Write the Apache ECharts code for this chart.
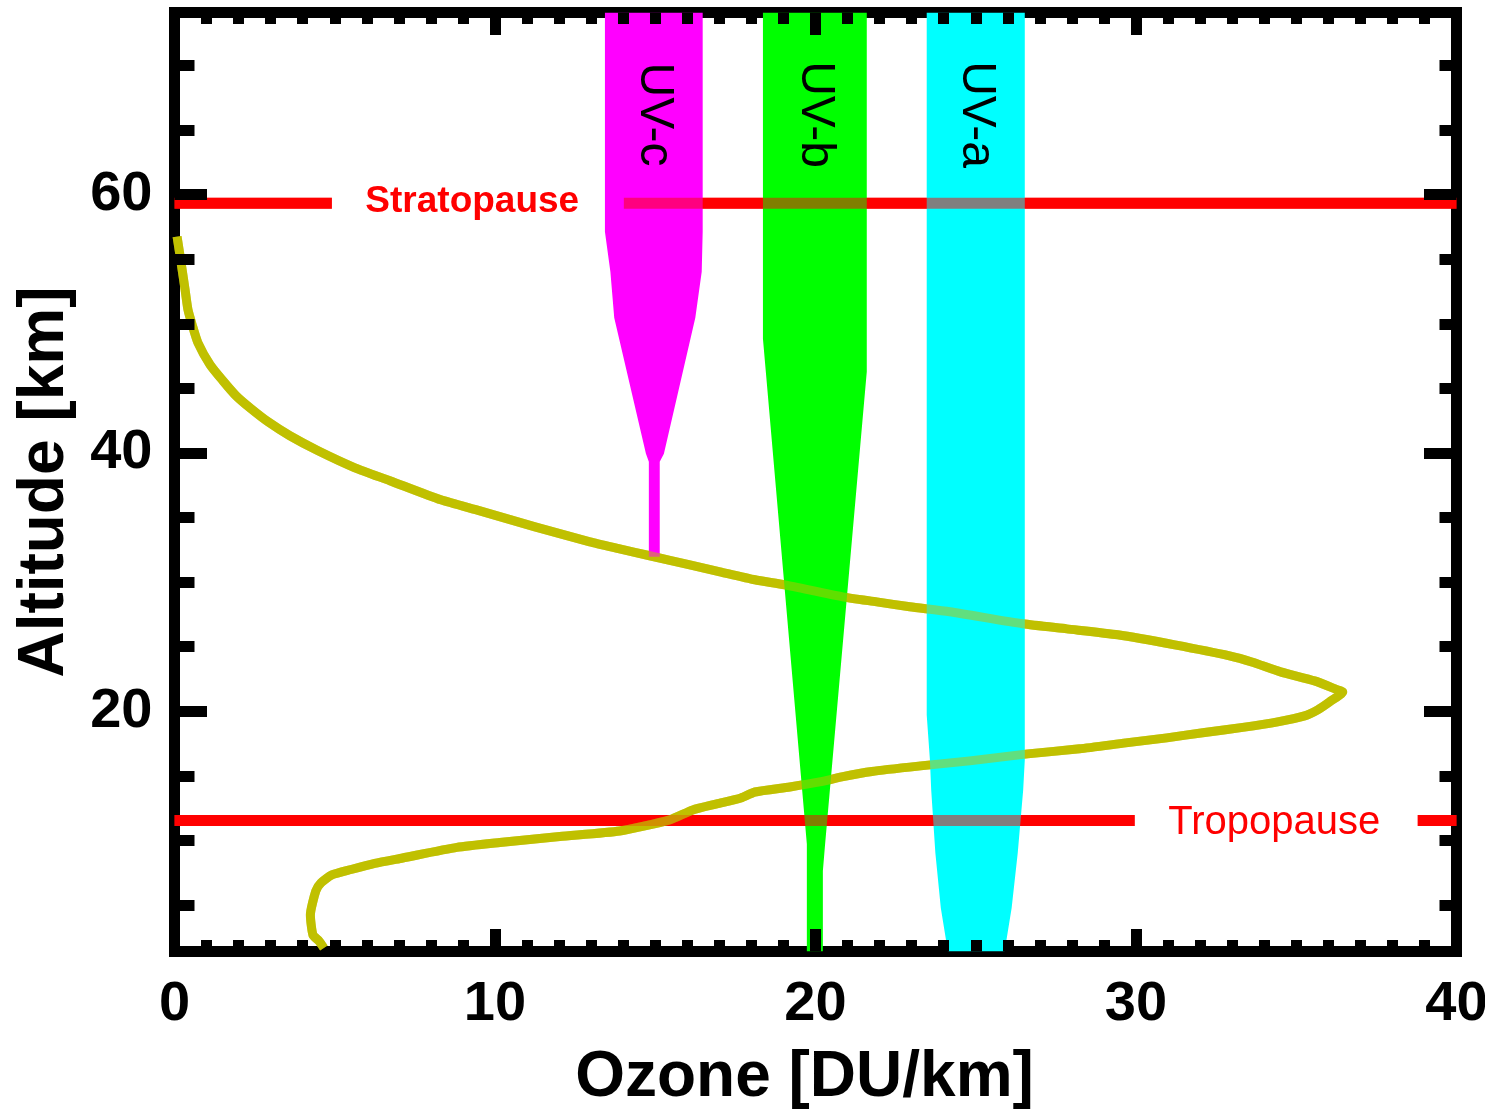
<!DOCTYPE html>
<html>
<head>
<meta charset="utf-8">
<script src="https://cdn.jsdelivr.net/npm/echarts@6/dist/echarts.min.js"></script>
<style>
  html, body { margin: 0; padding: 0; background: #ffffff; }
  #chart { width: 1485px; height: 1111px; }
</style>
</head>
<body>
<div id="chart"></div>
<script>
// Ozone density profile: ozone [DU/km] against altitude [km]
const ozone = [0.08,0.20,0.33,0.42,0.55,0.73,1.11,1.51,1.92,2.39,2.92,3.60,4.48,5.63,6.72,8.31,9.53,11.25,12.96,13.89,
  14.83,16.08,17.02,18.11,19.04,20.85,21.91,22.94,24.19,26.47,27.84,29.43,31.21,32.92,33.61,34.51,35.57,36.29,36.45,36.04,
  35.67,35.26,34.42,33.33,32.14,30.96,29.68,28.24,26.62,24.81,23.28,21.76,20.82,20.13,19.20,18.11,17.67,16.92,16.17,15.45,
  13.89,12.02,10.15,8.81,7.12,6.25,5.51,4.91,4.57,4.41,4.24,4.32,4.51,4.66];
const altitude = [56.75,54.81,52.64,51.09,49.93,48.53,46.83,45.59,44.43,43.42,42.41,41.33,40.17,38.85,37.85,36.37,35.52,34.28,33.12,32.58,
  32.04,31.34,30.80,30.18,29.79,28.86,28.47,28.09,27.70,26.77,26.38,25.92,25.14,24.29,23.82,23.05,22.35,21.66,21.50,20.73,
  20.11,19.64,19.18,18.75,18.36,17.94,17.55,17.09,16.70,16.16,15.77,15.34,14.92,14.53,14.14,13.75,13.29,12.83,12.36,11.59,
  10.73,10.31,9.84,9.46,8.64,8.22,7.75,7.33,6.71,6.09,4.23,2.68,2.21,1.67];

// UV penetration bands: altitude levels with left / right ozone edges
const uvcAlt   = [74.1, 57.13, 54.03, 50.47, 39.94, 39.32, 31.96];
const uvcLeft  = [13.43, 13.43, 13.60, 13.72, 14.71, 14.80, 14.80];
const uvcRight = [16.48, 16.48, 16.45, 16.25, 15.27, 15.14, 15.14];

const uvbAlt   = [74.1, 48.84, 46.29, 9.73, 7.64, 1.4];
const uvbLeft  = [18.36, 18.36, 18.45, 19.73, 19.73, 19.73];
const uvbRight = [21.60, 21.60, 21.60, 20.30, 20.23, 20.23];

const uvaAlt   = [74.1, 19.72, 16.23, 13.91, 9.03, 4.77, 1.4];
const uvaLeft  = [23.47, 23.47, 23.57, 23.61, 23.74, 23.91, 24.13];
const uvaRight = [26.53, 26.53, 26.53, 26.48, 26.31, 26.12, 25.90];

const bandNames = ['UV-c', 'UV-b', 'UV-a'];

// Atmospheric boundaries
const stratopauseAlt = 59.34;
const stratopauseSegments = [[0, 4.91], [14.02, 40]];
const tropopauseAlt = 11.55;
const tropopauseSegments = [[0, 29.96], [38.79, 40]];
const boundaryNames = ['Stratopause', 'Tropopause'];

// Axes
const xRange = [0, 40];
const xStep = 10;
const yRange = [1.4, 74.1];
const yMajorTicks = [20, 40, 60];
const yMinorTicks = [5, 10, 15, 25, 30, 35, 45, 50, 55, 65, 70];

const FONT = "'Liberation Sans', Arial, Helvetica, sans-serif";
const RED = '#ff0000';
const OLIVE = '#c0c000';
const BLACK = '#000000';

const chart = echarts.init(document.getElementById('chart'), null, { renderer: 'canvas' });

function segmentData(segs, alt) {
  const d = [];
  segs.forEach((s, i) => {
    if (i) d.push(['-', '-']);
    d.push([s[0], alt], [s[1], alt]);
  });
  return d;
}

const ozonePairs = ozone.map((v, i) => [v, altitude[i]]);

function boundaryLine(segs, alt, opacity, z) {
  return {
    type: 'line',
    data: segmentData(segs, alt),
    symbol: 'none',
    connectNulls: false,
    silent: true,
    z: z,
    lineStyle: { color: RED, width: 11, opacity: opacity, cap: 'butt' }
  };
}

function ozoneLine(opacity, z) {
  return {
    type: 'line',
    data: ozonePairs,
    symbol: 'none',
    smooth: 0.2,
    silent: true,
    z: z,
    lineStyle: { color: OLIVE, width: 9, opacity: opacity, join: 'round' }
  };
}

function band(alt, left, right, color) {
  return {
    type: 'custom',
    coordinateSystem: 'cartesian2d',
    data: [[left[0], alt[0]]],
    clip: true,
    silent: true,
    z: 2,
    renderItem: function (params, api) {
      const pts = [];
      for (let i = 0; i < alt.length; i++) pts.push(api.coord([left[i], alt[i]]));
      for (let i = alt.length - 1; i >= 0; i--) pts.push(api.coord([right[i], alt[i]]));
      return { type: 'polygon', shape: { points: pts }, style: { fill: color, stroke: null } };
    }
  };
}

// band labels sit at the centre of each band's top width
const bandTops = [[uvcLeft[0], uvcRight[0]], [uvbLeft[0], uvbRight[0]], [uvaLeft[0], uvaRight[0]]];
const bandLabelSeries = {
  type: 'scatter',
  silent: true,
  z: 6,
  symbolSize: 1,
  itemStyle: { color: 'rgba(0,0,0,0)' },
  data: bandNames.map((n, i) => ({ name: n, value: [(bandTops[i][0] + bandTops[i][1]) / 2, 66.2] })),
  label: {
    show: true,
    position: 'inside',
    rotate: -90,
    formatter: '{b}',
    color: BLACK,
    opacity: 1,
    textBorderWidth: 0,
    fontFamily: FONT,
    fontSize: 48,
    fontWeight: 'normal'
  }
};

const boundaryLabelSeries = {
  type: 'scatter',
  silent: true,
  z: 6,
  symbolSize: 1,
  itemStyle: { color: 'rgba(0,0,0,0)' },
  data: [
    { name: boundaryNames[0], value: [stratopauseSegments[0][1], stratopauseAlt],
      label: { fontWeight: 'bold', fontSize: 37, offset: [0, -1] } },
    { name: boundaryNames[1], value: [tropopauseSegments[0][1], tropopauseAlt],
      label: { fontWeight: 'normal', fontSize: 40, offset: [0, 3] } }
  ],
  label: {
    show: true,
    position: 'right',
    distance: 33,
    formatter: '{b}',
    color: RED,
    opacity: 1,
    textBorderWidth: 0,
    fontFamily: FONT
  }
};

const tickStyle = { color: BLACK, width: 11 };

function xAxisDef(pos, withLabels) {
  return {
    type: 'value',
    position: pos,
    min: xRange[0],
    max: xRange[1],
    interval: xStep,
    z: 8,
    axisLine: { show: false },
    splitLine: { show: false },
    axisTick: { show: true, inside: true, length: 22.5, lineStyle: tickStyle },
    minorTick: { show: true, splitNumber: 10, length: 11.5, lineStyle: tickStyle },
    axisLabel: withLabels ? {
      show: true, margin: 25, color: BLACK, fontFamily: FONT, fontSize: 56, fontWeight: 'bold'
    } : { show: false },
    name: withLabels ? 'Ozone [DU/km]' : '',
    nameLocation: 'middle',
    nameGap: 95,
    nameMoveOverlap: false,
    nameTextStyle: { color: BLACK, fontFamily: FONT, fontSize: 64, fontWeight: 'bold', padding: [0, 22, 0, 0] }
  };
}

function yAxisDef(pos, ticks, len, withLabels) {
  return {
    type: 'value',
    position: pos,
    min: yRange[0],
    max: yRange[1],
    z: 8,
    axisLine: { show: false },
    splitLine: { show: false },
    axisTick: { show: true, inside: true, length: len, lineStyle: tickStyle, customValues: ticks },
    axisLabel: withLabels ? {
      show: true, margin: 22, color: BLACK, fontFamily: FONT, fontSize: 56, fontWeight: 'bold', customValues: ticks
    } : { show: false },
    name: withLabels ? 'Altitude [km]' : '',
    nameLocation: 'middle',
    nameGap: 97,
    nameRotate: 90,
    nameMoveOverlap: false,
    nameTextStyle: { color: BLACK, fontFamily: FONT, fontSize: 64, fontWeight: 'bold' }
  };
}

chart.setOption({
  animation: false,
  backgroundColor: '#ffffff',
  grid: {
    left: 174.5, right: 28.5, top: 12.5, bottom: 159.5,
    show: true, borderColor: BLACK, borderWidth: 11, backgroundColor: 'transparent',
    containLabel: false, outerBoundsMode: 'none'
  },
  xAxis: [xAxisDef('bottom', true), xAxisDef('top', false)],
  yAxis: [
    yAxisDef('left', yMajorTicks, 32.5, true),
    yAxisDef('left', yMinorTicks, 20, false),
    yAxisDef('right', yMajorTicks, 32.5, false),
    yAxisDef('right', yMinorTicks, 17, false)
  ],
  series: [
    boundaryLine(stratopauseSegments, stratopauseAlt, 1, 1),
    boundaryLine(tropopauseSegments, tropopauseAlt, 1, 1),
    ozoneLine(1, 1),
    band(uvcAlt, uvcLeft, uvcRight, '#ff00ff'),
    band(uvbAlt, uvbLeft, uvbRight, '#00ff00'),
    band(uvaAlt, uvaLeft, uvaRight, '#00ffff'),
    boundaryLine(stratopauseSegments, stratopauseAlt, 0.5, 3),
    boundaryLine(tropopauseSegments, tropopauseAlt, 0.5, 3),
    ozoneLine(0.5, 4),
    bandLabelSeries,
    boundaryLabelSeries
  ]
});
</script>
</body>
</html>
